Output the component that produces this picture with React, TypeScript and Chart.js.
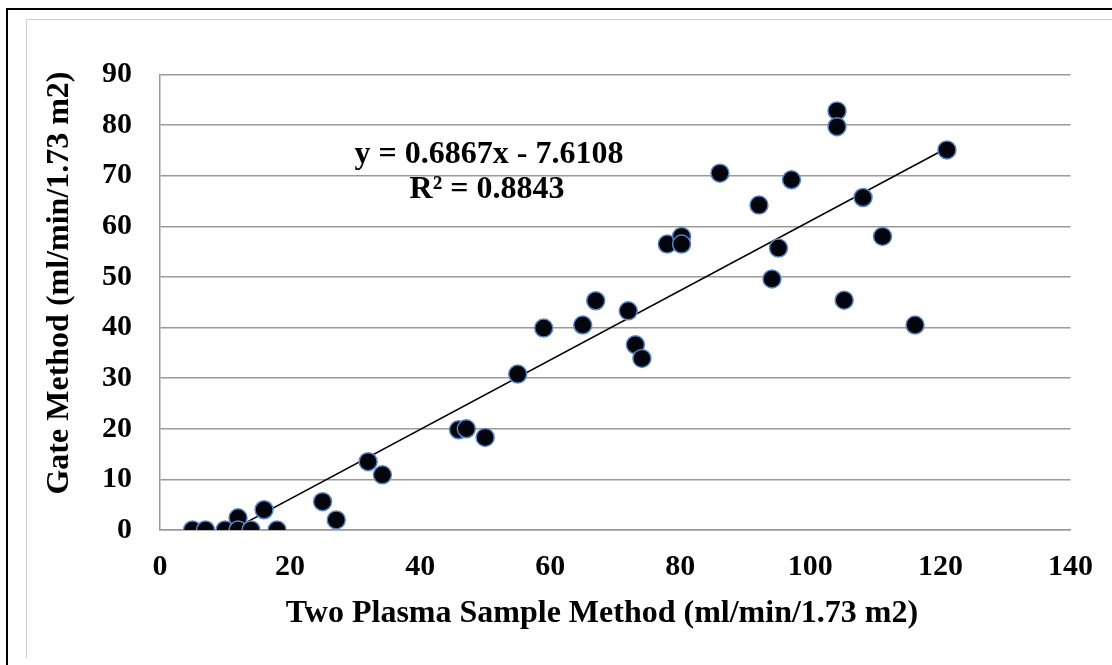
import React, { useEffect, useRef } from "react";
import { Chart, registerables } from "chart.js";

Chart.register(...registerables);

// Two Plasma Sample Method (x) vs Gate Method (y)
const twoPlasmaValues: number[] = [
  5.0, 7.0, 10.0, 12.0, 12.0, 14.0, 16.0, 18.0, 25.0, 27.1,
  32.0, 34.2, 45.9, 47.1, 50.0, 55.0, 59.0, 65.0, 67.0, 72.0,
  73.1, 74.1, 78.0, 80.2, 80.2, 86.1, 92.1, 94.1, 95.1, 97.1,
  104.1, 104.1, 105.2, 108.1, 111.1, 116.1, 121.0,
];
const gateValues: number[] = [
  0, 0, 0, 2.4, 0, 0, 4.0, 0, 5.6, 2.0,
  13.5, 10.9, 19.8, 20.0, 18.3, 30.8, 39.9, 40.5, 45.3, 43.3,
  36.6, 33.9, 56.5, 58.0, 56.5, 70.5, 64.2, 49.6, 55.7, 69.2,
  82.8, 79.7, 45.4, 65.7, 58.0, 40.5, 75.1,
];

const TREND_SLOPE = 0.6867;
const TREND_INTERCEPT = -7.6108;
const EQUATION_TEXT = "y = 0.6867x - 7.6108";
const R2_TEXT = "R\u00b2 = 0.8843";
const X_TITLE = "Two Plasma Sample Method (ml/min/1.73 m2)";
const Y_TITLE = "Gate Method (ml/min/1.73 m2)";
const X_TICKS = [0, 20, 40, 60, 80, 100, 120, 140];
const Y_TICKS = [0, 10, 20, 30, 40, 50, 60, 70, 80, 90];

const SERIF = "'Liberation Serif', 'Times New Roman', serif";

export default function App() {
  const ref = useRef<HTMLCanvasElement | null>(null);

  useEffect(() => {
    if (!ref.current) return;
    const points = twoPlasmaValues.map((x, i) => ({ x, y: gateValues[i] }));
    const xMin = Math.min(...twoPlasmaValues);
    const xMax = Math.max(...twoPlasmaValues);
    const trend = [xMin, xMax].map((x) => ({ x, y: TREND_SLOPE * x + TREND_INTERCEPT }));

    const decorations = {
      id: "decorations",
      beforeDraw(chart: any) {
        const ctx = chart.ctx;
        ctx.save();
        ctx.fillStyle = "#ffffff";
        ctx.fillRect(0, 0, chart.width, chart.height);
        ctx.fillStyle = "#000000";
        ctx.fillRect(6, 8, 2, chart.height - 8);
        ctx.fillRect(6, 8, chart.width - 6, 2);
        ctx.fillStyle = "#cfcfcf";
        ctx.fillRect(26, 19, 1, 639);
        ctx.fillRect(26, 19, chart.width - 26, 1);
        ctx.restore();
      },
      afterDraw(chart: any) {
        const ctx = chart.ctx;
        ctx.save();
        ctx.fillStyle = "#000000";
        ctx.font = `bold 32px ${SERIF}`;
        ctx.textAlign = "center";
        ctx.textBaseline = "alphabetic";
        ctx.fillText(X_TITLE, 602, 622);
        ctx.fillText(EQUATION_TEXT, 489, 163);
        ctx.fillText(R2_TEXT, 487, 198);
        ctx.translate(68, 283);
        ctx.rotate(-Math.PI / 2);
        ctx.fillText(Y_TITLE, 0, 0);
        ctx.restore();
      },
    };

    const chart = new Chart(ref.current, {
      type: "scatter",
      data: {
        datasets: [
          {
            type: "scatter",
            data: points,
            backgroundColor: "#03050d",
            borderColor: "#5a86c4",
            borderWidth: 1.5,
            pointRadius: 9,
            pointHoverRadius: 9,
            order: 1,
          },
          {
            type: "line",
            data: trend,
            borderColor: "#000000",
            borderWidth: 1.5,
            pointRadius: 0,
            fill: false,
            order: 2,
          } as any,
        ],
      },
      options: {
        animation: false,
        responsive: false,
        maintainAspectRatio: false,
        layout: { autoPadding: false, padding: { left: 0, top: 74.5, right: 40, bottom: 0 } } as any,
        plugins: { legend: { display: false }, tooltip: { enabled: false } },
        scales: {
          x: {
            type: "linear",
            min: 0,
            max: 140,
            afterBuildTicks: (s: any) => { s.ticks = X_TICKS.map((v) => ({ value: v })); },
            afterFit: (s: any) => { s.height = 135; },
            grid: { display: false, drawTicks: false },
            border: { display: true, color: "#9a9a9a", width: 1.5 },
            ticks: {
              padding: 19,
              color: "#000000",
              font: { family: SERIF, size: 30, weight: "bold" },
            },
          },
          y: {
            type: "linear",
            min: 0,
            max: 90,
            afterBuildTicks: (s: any) => { s.ticks = Y_TICKS.map((v) => ({ value: v })); },
            afterFit: (s: any) => { s.width = 160; },
            grid: { color: "#9a9a9a", lineWidth: 1.5, drawTicks: false },
            border: { display: true, color: "#9a9a9a", width: 1.5 },
            ticks: {
              padding: 28,
              color: "#000000",
              font: { family: SERIF, size: 30, weight: "bold" },
            },
          },
        },
      },
      plugins: [decorations],
    });
    return () => chart.destroy();
  }, []);

  return (
    <div style={{ position: "absolute", left: 0, top: 0, width: 1112, height: 665 }}>
      <canvas ref={ref} width={1112} height={665} style={{ display: "block" }} />
    </div>
  );
}
